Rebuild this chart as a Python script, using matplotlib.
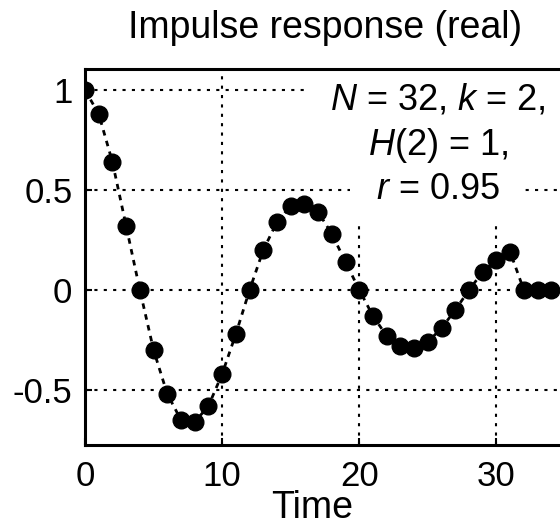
import matplotlib
matplotlib.use("Agg")
import matplotlib.pyplot as plt
from matplotlib.patches import Rectangle

plt.rcParams['font.family'] = ['Liberation Sans', 'DejaVu Sans']
plt.rcParams['mathtext.fontset'] = 'custom'
plt.rcParams['mathtext.it'] = 'Liberation Sans:italic'
plt.rcParams['mathtext.rm'] = 'Liberation Sans'
plt.rcParams['axes.unicode_minus'] = False

# impulse response samples
time_idx = list(range(35))
h_real = [1.00, 0.88, 0.64, 0.32, 0.00, -0.30, -0.52, -0.65, -0.66, -0.58,
          -0.42, -0.22, 0.00, 0.20, 0.34, 0.42, 0.43, 0.39, 0.28, 0.14,
          0.00, -0.13, -0.23, -0.28, -0.29, -0.26, -0.19, -0.10, 0.00, 0.09,
          0.15, 0.19, 0.00, 0.00, 0.00]

xticks = [0, 10, 20, 30]
yticks = [-0.5, 0, 0.5, 1]
ytick_labels = ['-0.5', '0', '0.5', '1']
info_lines = ['$N$ = 32, $k$ = 2,', '$H$(2) = 1,', '$r$ = 0.95']

fig = plt.figure(figsize=(5.6, 5.26), dpi=100)
ax = fig.add_axes([85 / 560, 81 / 526, 480 / 560, 376 / 526])

ax.plot(time_idx, h_real, color='black', linestyle=(0, (2, 2)), linewidth=2,
        marker='o', markersize=12, markerfacecolor='black',
        markeredgecolor='black', zorder=3)

ax.set_xlim(0, 35)
ax.set_ylim(-0.775, 1.105)
ax.set_xticks(xticks)
ax.set_yticks(yticks)
ax.set_yticklabels(ytick_labels)
ax.tick_params(direction='in', length=5, width=1.5, labelsize=25)
ax.tick_params(axis='x', pad=11)
ax.tick_params(axis='y', pad=9)

ax.grid(True, color='black', linestyle=(0, (1.5, 3)), linewidth=1.5)
for side in ['left', 'bottom', 'top']:
    ax.spines[side].set_linewidth(2.2)
    ax.spines[side].set_zorder(5)
ax.spines['right'].set_visible(False)

ax.set_title('Impulse response (real)', fontsize=27, pad=22)
ax.set_xlabel('Time', fontsize=27)
ax.xaxis.label.set_verticalalignment('baseline')
ax.xaxis.set_label_coords((312 - 85) / 480, (445 - 518) / 376)

# annotation lines, each with its own white background
line_y = [110, 155, 199]
texts = []
for txt, yb in zip(info_lines, line_y):
    t = ax.text((438 - 85) / 480, (445 - yb) / 376, txt, transform=ax.transAxes,
                fontsize=26, ha='center', va='baseline', color='black', zorder=4)
    texts.append(t)

fig.canvas.draw()
renderer = fig.canvas.get_renderer()
inv = ax.transAxes.inverted()
for t in texts:
    bb = t.get_window_extent(renderer)
    (x0, y0), (x1, y1) = inv.transform([(bb.x0 - 26, bb.y0 - 14),
                                        (bb.x1 + 22, bb.y1 + 10)])
    ax.add_patch(Rectangle((x0, y0), x1 - x0, y1 - y0, transform=ax.transAxes,
                           facecolor='white', edgecolor='none', zorder=2,
                           clip_on=False))

fig.savefig('out.png', dpi=100)
